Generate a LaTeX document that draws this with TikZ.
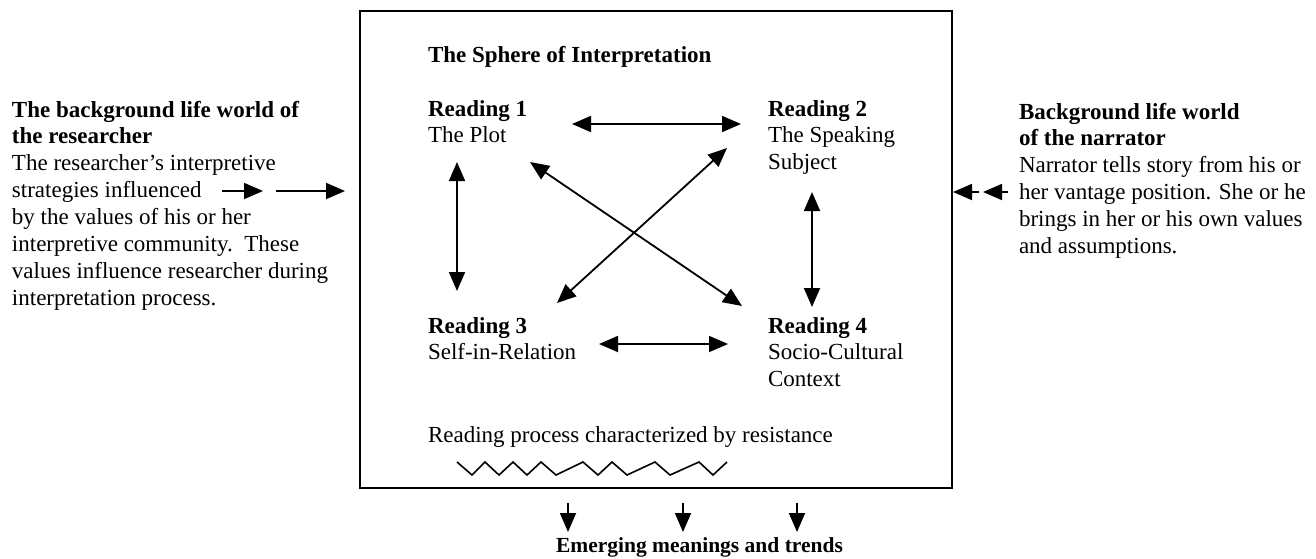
\documentclass[tikz,border=0pt]{standalone}
\usepackage{fontspec}
\setmainfont{Liberation Serif}
\usetikzlibrary{arrows.meta}
% left-aligned block of lines whose baseline is the first line
\newcommand\txtlines[1]{\begin{tabular}[t]{@{}l@{}}#1\end{tabular}}
\begin{document}
\begin{tikzpicture}[x=1pt,y=-1pt,
  txt/.style={anchor=base west, inner sep=0pt, outer sep=0pt,
    font=\fontsize{23}{26.9}\selectfont},
  tip/.tip={Triangle[length=19pt,width=16pt]},
  both/.style={line width=1.8pt, tip-tip},
  one/.style={line width=1.8pt, -tip},
  frame/.style={line width=1.9pt}
]
\useasboundingbox (0,0) rectangle (1316,558);

% the sphere of interpretation
\draw[frame] (360,11) rectangle (952,488);

\node[txt] (title) at (428,62) {\textbf{The Sphere of Interpretation}};
\node[txt] (r1) at (428,116) {\txtlines{\textbf{Reading 1}\\The Plot}};
\node[txt] (r2) at (768,116) {\txtlines{\textbf{Reading 2}\\The Speaking\\Subject}};
\node[txt] (r3) at (428,333) {\txtlines{\textbf{Reading 3}\\Self-in-Relation}};
\node[txt] (r4) at (768,333) {\txtlines{\textbf{Reading 4}\\Socio-Cultural\\Context}};
\node[txt] (resist) at (428,442) {Reading process characterized by resistance};

% the two life worlds on either side
\node[txt] (left) at (12,117) {\txtlines{\textbf{The background life world of}\\
  \textbf{the researcher}\\
  The researcher's interpretive\\
  strategies influenced\\
  by the values of his or her\\
  interpretive community.\ \ These\\
  values influence researcher during\\
  interpretation process.}};
\node[txt] (right) at (1019,119) {\txtlines{\textbf{Background life world}\\
  \textbf{of the narrator}\\
  Narrator tells story from his or\\
  her vantage position. She or he\\
  brings in her or his own values\\
  and assumptions.}};

\node[txt, font=\fontsize{21.5}{24}\selectfont\bfseries] (emerge) at (556,552)
  {Emerging meanings and trends};

% arrow end points
\coordinate (a12s) at (572,124);  \coordinate (a12e) at (741,124);
\coordinate (a13s) at (457,162);  \coordinate (a13e) at (457,291);
\coordinate (a14s) at (530,162);  \coordinate (a14e) at (742,306);
\coordinate (a32s) at (557,303);  \coordinate (a32e) at (727,148);
\coordinate (a24s) at (812,192);  \coordinate (a24e) at (812,307);
\coordinate (a34s) at (599,344);  \coordinate (a34e) at (728,344);

\draw[both] (a12s) -- (a12e);
\draw[both] (a13s) -- (a13e);
\draw[both] (a14s) -- (a14e);
\draw[both] (a32s) -- (a32e);
\draw[both] (a24s) -- (a24e);
\draw[both] (a34s) -- (a34e);

% influences from the researcher's side
\coordinate (la1) at (222,191); \coordinate (lb1) at (263,191);
\coordinate (la2) at (276,191); \coordinate (lb2) at (345,191);
\draw[one] (la1) -- (lb1);
\draw[one] (la2) -- (lb2);

% influences from the narrator's side
\coordinate (ra1) at (979,192);  \coordinate (rb1) at (953,192);
\coordinate (ra2) at (1008,192); \coordinate (rb2) at (983,192);
\draw[one] (ra1) -- (rb1);
\draw[one] (ra2) -- (rb2);

% outcomes below the sphere
\foreach \x [count=\i] in {568,683,797}{
  \coordinate (oa\i) at (\x,503);
  \coordinate (ob\i) at (\x,532);
  \draw[one] (oa\i) -- (ob\i);
}

% resistance zigzag
\draw[line width=1.6pt, line join=miter]
  (457,462) -- (472,475) -- (485,462) -- (499,475) -- (513,462) -- (527,475)
  -- (541,462) -- (556,475) -- (583,462) -- (598,475) -- (612,462) -- (627,475)
  -- (655,462) -- (670,475) -- (699,462) -- (713,475) -- (727,462);
\end{tikzpicture}
\end{document}
